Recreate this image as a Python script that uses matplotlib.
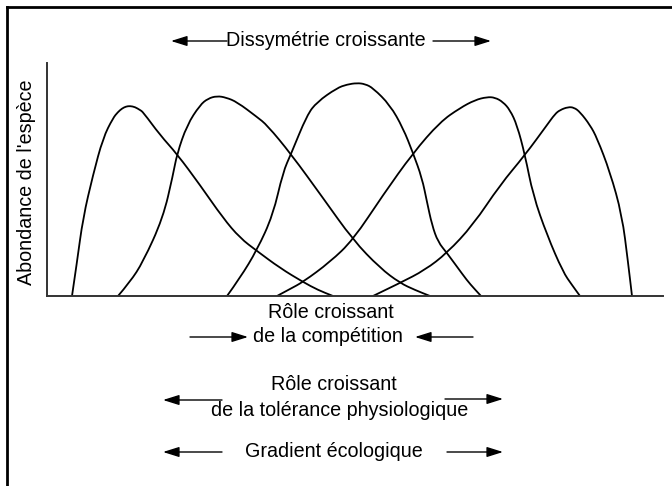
import matplotlib
matplotlib.use('Agg')
import matplotlib.pyplot as plt
from matplotlib.lines import Line2D
from matplotlib.path import Path
from matplotlib.patches import PathPatch, FancyArrowPatch

plt.rcParams['font.family'] = ['Liberation Sans', 'DejaVu Sans']

# Courbes d'abondance de 5 espèces le long du gradient (unités)
esp1_x = [25, 30, 36, 46, 56, 66, 71, 75, 79, 83, 88, 93, 96, 113, 130, 153, 176, 193, 210, 233, 256, 271, 286]
esp1_y = [0, 34, 78, 121, 158, 178, 184, 187.5, 189.5, 190, 189, 186, 184, 161, 142, 111, 78, 58, 45, 28, 14, 6, 0]

esp2_x = [71, 83, 96, 116, 126, 130, 140, 153, 161, 170, 179, 190, 210, 220, 244, 276, 306, 333, 353, 368, 383]
esp2_y = [0, 14, 34, 78, 121, 142, 171, 191, 197.5, 200, 198.5, 194, 179, 171, 142, 98, 56, 28, 13, 6, 0]

esp3_x = [180, 193, 210, 226, 236, 244, 260, 270, 290, 300, 310, 318, 326, 343, 356, 366, 375, 380, 385, 391, 400, 416, 423, 434]
esp3_y = [0, 18, 46, 81, 124, 142, 181, 194, 208, 211.5, 213, 212, 208, 191, 168, 143, 118, 94, 71, 54, 43, 21, 12, 0]

esp4_x = [230, 243, 256, 283, 306, 336, 366, 393, 413, 428, 440, 448, 456, 463, 470, 478, 486, 500, 516, 525, 533]
esp4_y = [0, 7, 14, 34, 56, 101, 143, 174, 188, 196, 199, 198.5, 194, 186, 171, 141, 101, 61, 24, 11, 0]

esp5_x = [326, 353, 378, 400, 426, 453, 478, 500, 508, 513, 521, 527, 533, 543, 550, 563, 575, 581, 585]
esp5_y = [0, 13, 26, 43, 71, 111, 141, 171, 182, 186, 189, 188.5, 184, 171, 158, 124, 81, 34, 0]

especes = [(esp1_x, esp1_y), (esp2_x, esp2_y), (esp3_x, esp3_y), (esp4_x, esp4_y), (esp5_x, esp5_y)]

W, H = 672, 486
fig = plt.figure(figsize=(W / 100, H / 100), dpi=100)
fig.patch.set_facecolor('white')

ax = fig.add_axes([47 / W, 1 - 296 / H, 616 / W, 233 / H])


def courbe_lisse(x, y):
    # tracé lissé : les points lus servent de points de contrôle (Bézier quadratique)
    pts = list(zip(x, y))
    verts = [pts[0]]
    codes = [Path.MOVETO]
    for i in range(1, len(pts) - 1):
        mx = (pts[i][0] + pts[i + 1][0]) / 2
        my = (pts[i][1] + pts[i + 1][1]) / 2
        verts += [pts[i], (mx, my)]
        codes += [Path.CURVE3, Path.CURVE3]
    verts.append(pts[-1])
    codes.append(Path.LINETO)
    return Path(verts, codes)


for x, y in especes:
    ax.add_patch(PathPatch(courbe_lisse(x, y), facecolor='none', edgecolor='black', lw=1.3))
ax.set_xlim(0, 616)
ax.set_ylim(0, 233)
ax.set_xticks([])
ax.set_yticks([])
for s in ['top', 'right']:
    ax.spines[s].set_visible(False)
for s in ['left', 'bottom']:
    ax.spines[s].set_linewidth(1.4)
    ax.spines[s].set_color('#333333')
ax.patch.set_alpha(0)

# cadre (haut et gauche)
fig.add_artist(Line2D([7 / W, 7 / W], [0, 1 - 7 / H], color='black', lw=2))
fig.add_artist(Line2D([7 / W, 1], [1 - 7 / H, 1 - 7 / H], color='black', lw=2))

fs = 14.2


def txt(px, py, s, **kw):
    fig.text(px / W, 1 - py / H, s, fontsize=fs, ha='center', va='center', **kw)


def fleche(x0, x1, py):
    # de x0 vers x1 (pointe en x1), coordonnées en pixels depuis le haut
    fig.add_artist(FancyArrowPatch(
        (x0 / W, 1 - py / H), (x1 / W, 1 - py / H), transform=fig.transFigure,
        arrowstyle='-|>,head_length=0.7,head_width=0.22', mutation_scale=14,
        lw=1.0, color='black', shrinkA=0, shrinkB=0))


txt(326, 40, 'Dissymétrie croissante')
fleche(227, 171, 41)
fleche(433, 491, 41)

txt(27, 182, "Abondance de l'espèce", rotation=90)

txt(331, 313, 'Rôle croissant')
txt(328, 336, 'de la compétition')
fleche(190, 248, 337)
fleche(473, 415, 337)

txt(334, 384, 'Rôle croissant')
txt(340, 410, 'de la tolérance physiologique')
fleche(222, 163, 400)
fleche(445, 503, 399)

txt(334, 451, 'Gradient écologique')
fleche(222, 163, 452)
fleche(447, 503, 452)

fig.savefig('out.png', dpi=100)
